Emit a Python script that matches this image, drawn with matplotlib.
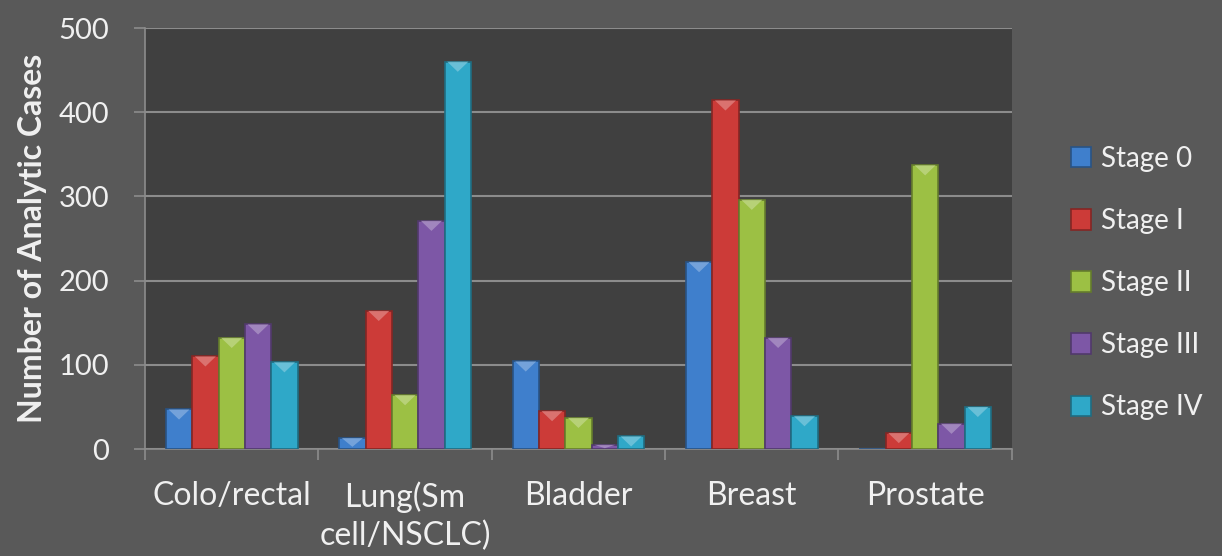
import numpy as np
import matplotlib.pyplot as plt
import matplotlib.colors as mcolors
from matplotlib.patches import Polygon

# cancer sites and stage counts
sites = ['Colo/rectal', 'Lung(Sm\ncell/NSCLC)', 'Bladder', 'Breast', 'Prostate']
stages = ['Stage 0', 'Stage I', 'Stage II', 'Stage III', 'Stage IV']
stage0 = [47, 13, 104, 222, 0]
stage1 = [110, 164, 45, 414, 19]
stage2 = [132, 64, 37, 296, 337]
stage3 = [148, 271, 5, 132, 30]
stage4 = [103, 460, 15, 39, 50]
colors = ['#3f7fcc', '#cc3b38', '#9cc044', '#7d57a6', '#2fa8c8']

plt.rcParams['font.family'] = ['Lato', 'DejaVu Sans']
txt = '#f0f0f0'
line = '#8c8c8c'

fig = plt.figure(figsize=(12.22, 5.56), dpi=100)
fig.patch.set_facecolor('#595959')
ax = fig.add_axes([0.1187, 0.1924, 0.7093, 0.7572])
ax.set_facecolor('#404040')

def shade(c, f):
    r, g, b = mcolors.to_rgb(c)
    if f < 1:
        return (r * f, g * f, b * f)
    return tuple(v + (1 - v) * (f - 1) for v in (r, g, b))

series = [stage0, stage1, stage2, stage3, stage4]
x = np.arange(len(sites))
w = 0.152
for i, (vals, c) in enumerate(zip(series, colors)):
    bars = ax.bar(x + (i - 2) * w, vals, width=w, color=c,
                  edgecolor=shade(c, 0.65), linewidth=1.2,
                  label=stages[i], zorder=3)
    # lighter bevel triangle on the top of each bar
    for b in bars:
        h = b.get_height()
        if h <= 0:
            continue
        bx, bw = b.get_x(), b.get_width()
        d = min(12, h * 0.8)
        tri = Polygon([(bx + 0.1 * bw, h), (bx + 0.9 * bw, h), (bx + bw / 2, h - d)],
                      closed=True, facecolor=shade(c, 1.35), edgecolor='none',
                      alpha=0.8, zorder=4)
        ax.add_patch(tri)

ax.set_xlim(-0.5, len(sites) - 0.5)
ax.set_ylim(0, 500)
ax.set_yticks(range(0, 501, 100))
ax.yaxis.grid(True, color=line, linewidth=1.5, zorder=0)
ax.set_axisbelow(True)

# category labels centered, tick marks on the boundaries
ax.set_xticks(x)
ax.set_xticklabels(sites, fontsize=23, color=txt, linespacing=1.35)
ax.tick_params(axis='x', length=0, pad=23)
ax.set_xticks(np.arange(-0.5, len(sites), 1), minor=True)
ax.tick_params(axis='x', which='minor', length=8, color=line, width=1.2)
ax.tick_params(axis='y', labelsize=21, labelcolor=txt, length=8,
               color=line, width=1.2, pad=18)

for s in ['top', 'right']:
    ax.spines[s].set_visible(False)
for s in ['left', 'bottom']:
    ax.spines[s].set_color(line)
    ax.spines[s].set_linewidth(1.2)

ax.set_ylabel('Number of Analytic Cases', fontsize=23, fontweight='bold',
              color=txt, labelpad=8)

leg = ax.legend(loc='center left', bbox_to_anchor=(1.055, 0.394), frameon=False,
                fontsize=20, labelspacing=1.3, handlelength=0.75,
                handleheight=0.75, handletextpad=0.35, borderaxespad=0)
for t in leg.get_texts():
    t.set_color(txt)

fig.savefig('out.png', dpi=100, facecolor=fig.get_facecolor())
